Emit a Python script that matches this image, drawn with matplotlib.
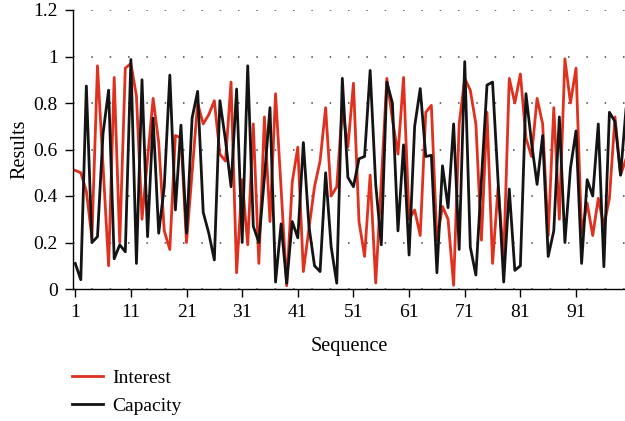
import numpy as np
import matplotlib
matplotlib.use("Agg")
import matplotlib.pyplot as plt

plt.rcParams['font.family'] = ['Liberation Serif', 'DejaVu Serif']

sequence = np.arange(1, 101)

interest = [0.51, 0.50, 0.42, 0.22, 0.96, 0.53, 0.10, 0.91, 0.20, 0.95,
            0.97, 0.83, 0.30, 0.56, 0.82, 0.63, 0.25, 0.17, 0.66, 0.65,
            0.20, 0.50, 0.80, 0.71, 0.75, 0.81, 0.58, 0.55, 0.89, 0.07,
            0.47, 0.19, 0.71, 0.11, 0.74, 0.29, 0.84, 0.43, 0.014, 0.46,
            0.61, 0.075, 0.26, 0.44, 0.55, 0.78, 0.40, 0.44, 0.78, 0.61,
            0.885, 0.29, 0.14, 0.49, 0.026, 0.46, 0.906, 0.73, 0.58, 0.91,
            0.30, 0.34, 0.23, 0.76, 0.79, 0.21, 0.355, 0.30, 0.016, 0.71,
            0.906, 0.855, 0.71, 0.21, 0.76, 0.11, 0.44, 0.13, 0.906, 0.80,
            0.925, 0.65, 0.57, 0.82, 0.71, 0.23, 0.78, 0.30, 0.99, 0.80,
            0.95, 0.24, 0.37, 0.23, 0.39, 0.27, 0.39, 0.74, 0.49, 0.56]

capacity = [0.11, 0.04, 0.873, 0.20, 0.225, 0.67, 0.855, 0.13, 0.19, 0.16,
            0.987, 0.11, 0.90, 0.225, 0.735, 0.24, 0.44, 0.92, 0.34, 0.705,
            0.24, 0.735, 0.85, 0.33, 0.24, 0.125, 0.81, 0.64, 0.44, 0.86,
            0.20, 0.96, 0.27, 0.20, 0.48, 0.78, 0.03, 0.28, 0.025, 0.29,
            0.22, 0.63, 0.27, 0.10, 0.075, 0.50, 0.18, 0.025, 0.906, 0.48,
            0.44, 0.56, 0.57, 0.94, 0.45, 0.19, 0.89, 0.80, 0.25, 0.62,
            0.146, 0.70, 0.862, 0.57, 0.575, 0.07, 0.53, 0.35, 0.71, 0.17,
            0.978, 0.18, 0.06, 0.47, 0.877, 0.89, 0.46, 0.03, 0.43, 0.08,
            0.10, 0.84, 0.63, 0.45, 0.66, 0.14, 0.25, 0.74, 0.20, 0.52,
            0.68, 0.11, 0.47, 0.40, 0.71, 0.096, 0.76, 0.72, 0.49, 0.78]

x_ticks = [1, 11, 21, 31, 41, 51, 61, 71, 81, 91]
y_ticks = [0, 0.2, 0.4, 0.6, 0.8, 1.0, 1.2]
y_labels = ['0', '0.2', '0.4', '0.6', '0.8', '1', '1.2']

fig = plt.figure(figsize=(6.25, 4.21), dpi=100)
ax = fig.add_axes([73/625, 1-289/421, 1-73/625, (289-10)/421])

ax.plot(sequence, interest, color='#e0301e', lw=2, label='Interest')
ax.plot(sequence, capacity, color='#141414', lw=2, label='Capacity')

ax.set_xlim(0.6, 99.8)
ax.set_ylim(0, 1.2)
ax.set_xticks(x_ticks)
ax.set_yticks(y_ticks)
ax.set_yticklabels(y_labels)
ax.tick_params(labelsize=14, direction='out', length=6, width=1, pad=5, colors='black')

for s in ['top', 'right']:
    ax.spines[s].set_visible(False)
for s in ['left', 'bottom']:
    ax.spines[s].set_linewidth(1)

ax.yaxis.grid(True, linestyle=(0, (1, 11)), color='#444444', linewidth=1.1)
ax.set_axisbelow(True)

ax.set_xlabel('Sequence', fontsize=14.5, labelpad=11)
ax.set_ylabel('Results', fontsize=14.5, labelpad=3)

fig.legend(loc='upper left', bbox_to_anchor=(72/625, 1-369/421),
           frameon=False, fontsize=14, handlelength=1.6,
           handletextpad=0.45, labelspacing=0.55, borderpad=0, borderaxespad=0)

fig.savefig('out.png', dpi=100)
